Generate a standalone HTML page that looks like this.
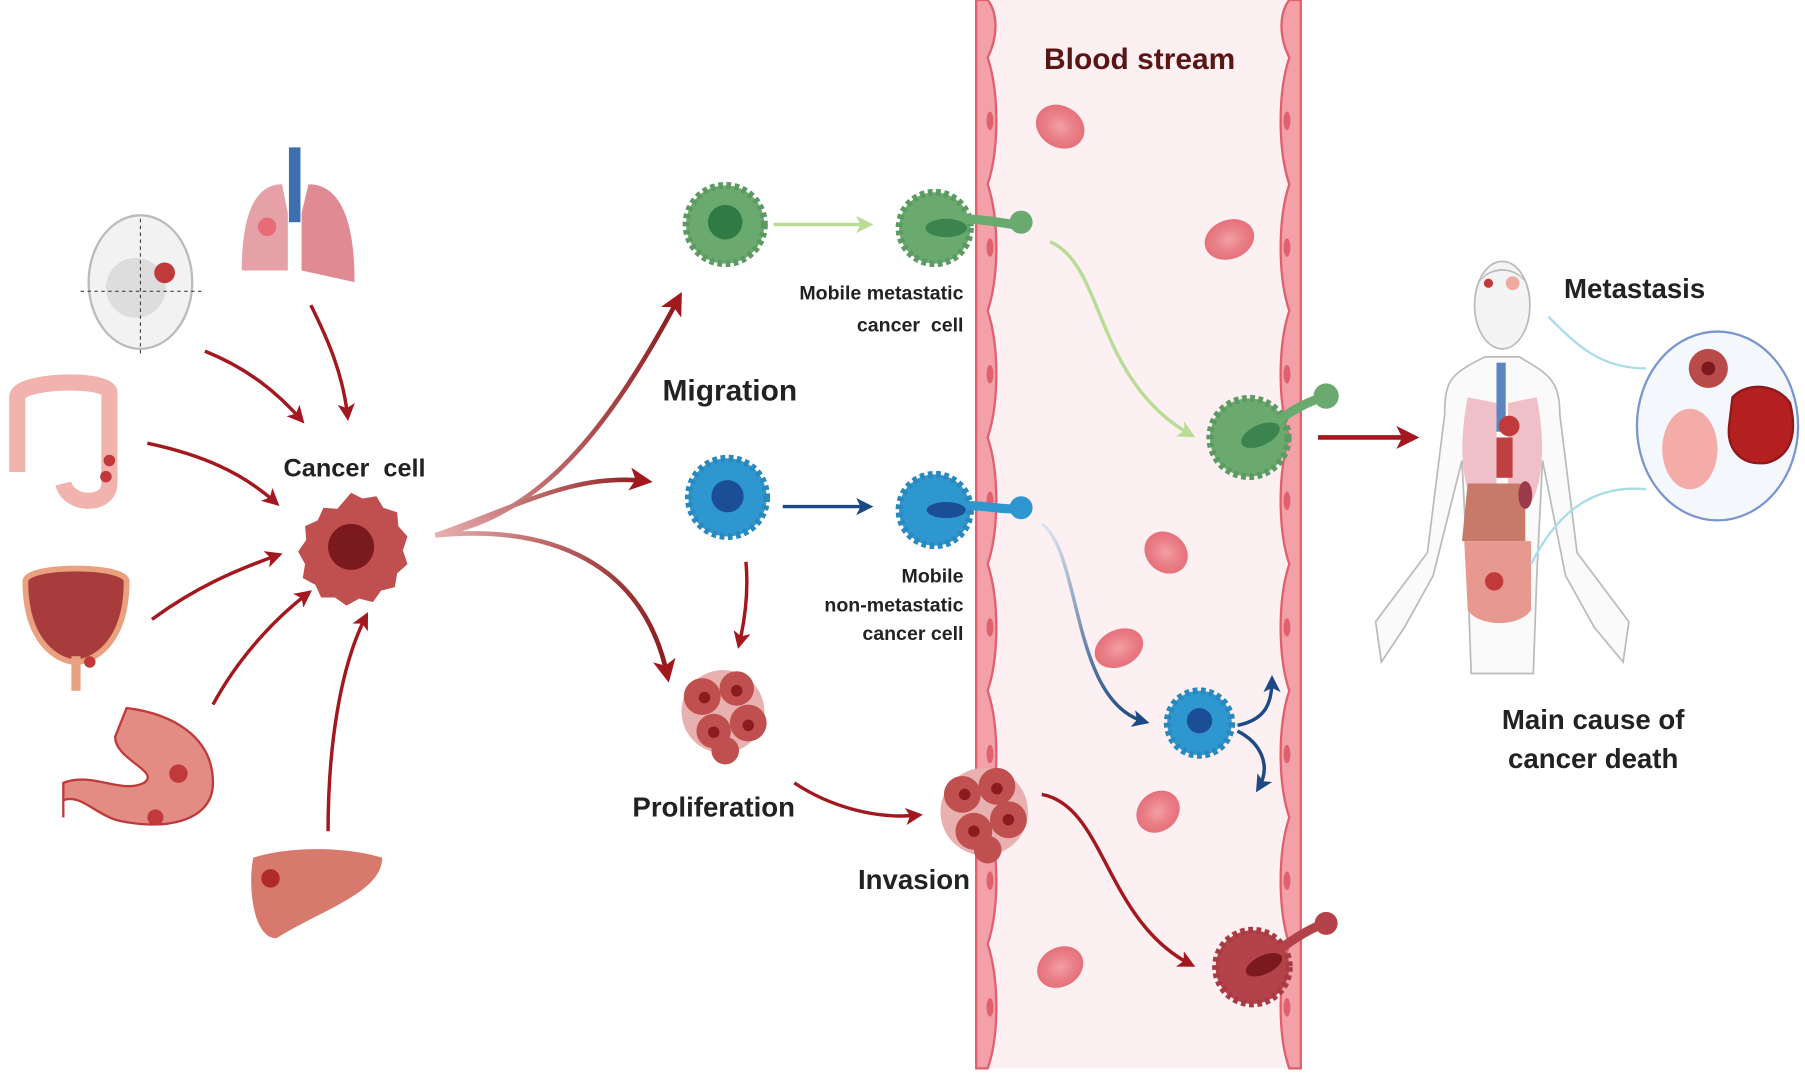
<!DOCTYPE html>
<html><head><meta charset="utf-8"><style>
html,body{margin:0;padding:0;background:#fff}
svg{display:block}
text{font-family:"Liberation Sans",sans-serif;font-weight:bold}
</style></head><body>
<svg width="1805" height="1073" viewBox="0 0 1568 932" preserveAspectRatio="none" xmlns="http://www.w3.org/2000/svg">
<defs>
<marker id="ar" viewBox="0 0 8 8" markerWidth="5" markerHeight="5" refX="6" refY="4" orient="auto" markerUnits="strokeWidth"><path d="M0,0 L8,4 L0,8 L2,4z" fill="#a3181e"/></marker>
<marker id="ab" viewBox="0 0 8 8" markerWidth="5" markerHeight="5" refX="6" refY="4" orient="auto" markerUnits="strokeWidth"><path d="M0,0 L8,4 L0,8 L2,4z" fill="#1d4a86"/></marker>
<marker id="ag" viewBox="0 0 8 8" markerWidth="5" markerHeight="5" refX="6" refY="4" orient="auto" markerUnits="strokeWidth"><path d="M0,0 L8,4 L0,8 L2,4z" fill="#b9dc96"/></marker>
<linearGradient id="fr" x1="0" x2="1"><stop offset="0" stop-color="#e8b0b0"/><stop offset="1" stop-color="#8c1a1a"/></linearGradient>
<linearGradient id="fb" x1="0" x2="0" y1="0" y2="1"><stop offset="0" stop-color="#e0e6f0"/><stop offset="1" stop-color="#1d4a86"/></linearGradient>
<radialGradient id="rbc"><stop offset="0" stop-color="#f3a0a6"/><stop offset="0.6" stop-color="#ea7f87"/><stop offset="1" stop-color="#e5717a"/></radialGradient>
</defs>

<rect x="848" y="0" width="282" height="928" fill="#fdf0f2"/>
<g fill="#f3a0a8" stroke="#e0606e" stroke-width="2">
<path d="M848,0 L848,928 L858,928 C868,900 868,850 858,820 C868,790 868,740 858,710 C868,680 868,630 858,600 C868,570 868,520 858,490 C868,460 868,410 858,380 C868,350 868,300 858,270 C868,240 868,190 858,160 C868,130 868,80 858,50 C868,30 866,10 858,0 Z"/>
<path d="M1130,0 L1130,928 L1120,928 C1110,900 1110,850 1120,820 C1110,790 1110,740 1120,710 C1110,680 1110,630 1120,600 C1110,570 1110,520 1120,490 C1110,460 1110,410 1120,380 C1110,350 1110,300 1120,270 C1110,240 1110,190 1120,160 C1110,130 1110,80 1120,50 C1110,30 1112,10 1120,0 Z"/>
</g>
<g fill="#e0606e">
<ellipse cx="860" cy="105" rx="3" ry="8"/><ellipse cx="860" cy="215" rx="3" ry="8"/><ellipse cx="860" cy="325" rx="3" ry="8"/><ellipse cx="860" cy="435" rx="3" ry="8"/><ellipse cx="860" cy="545" rx="3" ry="8"/><ellipse cx="860" cy="655" rx="3" ry="8"/><ellipse cx="860" cy="765" rx="3" ry="8"/><ellipse cx="860" cy="875" rx="3" ry="8"/>
<ellipse cx="1118" cy="105" rx="3" ry="8"/><ellipse cx="1118" cy="215" rx="3" ry="8"/><ellipse cx="1118" cy="325" rx="3" ry="8"/><ellipse cx="1118" cy="435" rx="3" ry="8"/><ellipse cx="1118" cy="545" rx="3" ry="8"/><ellipse cx="1118" cy="655" rx="3" ry="8"/><ellipse cx="1118" cy="765" rx="3" ry="8"/><ellipse cx="1118" cy="875" rx="3" ry="8"/>
</g>
<text x="990" y="60" font-size="26" fill="#5a1515" text-anchor="middle">Blood stream</text>
<g fill="url(#rbc)">
<ellipse cx="921" cy="110" rx="22" ry="18" transform="rotate(30 921 110)"/>
<ellipse cx="1068" cy="208" rx="22" ry="17" transform="rotate(-20 1068 208)"/>
<ellipse cx="1013" cy="480" rx="20" ry="17" transform="rotate(40 1013 480)"/>
<ellipse cx="972" cy="563" rx="22" ry="16" transform="rotate(-25 972 563)"/>
<ellipse cx="1006" cy="705" rx="20" ry="17" transform="rotate(-40 1006 705)"/>
<ellipse cx="921" cy="840" rx="21" ry="17" transform="rotate(-30 921 840)"/>
</g>

<ellipse cx="122" cy="245" rx="45" ry="58" fill="#f2f2f2" stroke="#bbb" stroke-width="2"/>
<circle cx="118" cy="250" r="26" fill="#ddd"/>
<circle cx="143" cy="237" r="9" fill="#c0393b"/>
<path d="M70,253 H178 M122,190 V308" stroke="#444" stroke-dasharray="3,3"/>
<path d="M210,235 C210,190 220,160 245,160 L250,185 L250,235 Z" fill="#e6a0a8"/>
<path d="M308,245 C308,190 295,160 268,160 L262,185 L262,235 Z" fill="#e08a94"/>
<rect x="251" y="128" width="10" height="65" fill="#3c6fb0"/>
<circle cx="232" cy="197" r="8" fill="#e86c78"/>
<path d="M15,410 V345 C15,330 90,328 95,340 V420 C95,440 60,440 55,420" fill="none" stroke="#f1b3ad" stroke-width="14"/>
<circle cx="95" cy="400" r="5" fill="#c0393b"/><circle cx="92" cy="414" r="5" fill="#c0393b"/>
<path d="M22,505 C22,490 110,490 110,505 C110,560 80,575 66,575 C52,575 22,560 22,505 Z" fill="#a83c3c" stroke="#e9a17f" stroke-width="5"/>
<rect x="62" y="570" width="8" height="30" fill="#e9a17f"/>
<circle cx="78" cy="575" r="5" fill="#c0393b"/>
<path d="M110,615 C150,620 185,640 185,680 C185,715 140,722 100,712 C80,705 70,690 55,695 L55,710 L55,680 C80,670 105,690 125,680 C140,670 100,660 100,640 Z" fill="#e28c84" stroke="#c0393b" stroke-width="2"/>
<circle cx="155" cy="672" r="8" fill="#c0393b"/><circle cx="135" cy="710" r="7" fill="#c0393b"/>
<path d="M220,745 C250,735 300,735 332,745 C332,775 280,790 240,815 C220,815 215,770 220,745 Z" fill="#d77a6d"/>
<circle cx="235" cy="763" r="8" fill="#b02a2a"/>

<g fill="none" stroke="#a3181e" stroke-width="3" marker-end="url(#ar)">
<path d="M178,305 C215,320 240,340 262,365"/>
<path d="M270,265 C285,295 298,325 302,362"/>
<path d="M128,385 C175,395 210,410 240,437"/>
<path d="M132,538 C170,510 205,495 242,482"/>
<path d="M185,612 C205,575 235,540 268,515"/>
<path d="M285,722 C285,650 295,580 318,535"/>
</g>

<path d="M305,428 l10,5 12,-2 6,10 12,4 1,12 8,9 -4,12 4,12 -9,8 -2,12 -12,3 -7,10 -12,-3 -11,6 -10,-7 -12,0 -5,-11 -11,-6 2,-12 -6,-11 7,-10 -1,-12 11,-5 5,-11 12,1z" fill="#c0504f"/>
<circle cx="305" cy="475" r="20" fill="#7a1a1e"/>
<text x="308" y="414" font-size="22" fill="#222" text-anchor="middle">Cancer&#160;&#160;cell</text>

<path d="M378,465 C460,450 520,390 590,258" fill="none" stroke="url(#fr)" stroke-width="4" marker-end="url(#ar)"/>
<path d="M378,465 C450,440 500,410 562,418" fill="none" stroke="url(#fr)" stroke-width="4" marker-end="url(#ar)"/>
<path d="M378,465 C480,455 560,490 580,588" fill="none" stroke="url(#fr)" stroke-width="4" marker-end="url(#ar)"/>
<text x="634" y="348" font-size="26" fill="#222" text-anchor="middle">Migration</text>

<circle cx="630" cy="195" r="34" fill="#6aaa6e" stroke="#5b9a60" stroke-width="6" stroke-dasharray="4,3"/>
<circle cx="630" cy="193" r="15" fill="#2f7a45"/>
<path d="M672,195 H755" stroke="#b9dc96" stroke-width="3" marker-end="url(#ag)"/>
<circle cx="812" cy="198" r="31" fill="#6aaa6e" stroke="#5b9a60" stroke-width="6" stroke-dasharray="4,3"/>
<path d="M810,198 C830,185 860,192 880,195" stroke="#6aaa6e" stroke-width="8" fill="none"/>
<circle cx="887" cy="193" r="10" fill="#6aaa6e"/>
<ellipse cx="822" cy="198" rx="18" ry="8" fill="#3b8450"/>
<text x="837" y="260" font-size="17" fill="#222" text-anchor="end">Mobile metastatic</text>
<text x="837" y="288" font-size="17" fill="#222" text-anchor="end">cancer&#160;&#160;cell</text>
<path d="M912,210 C960,230 950,330 1035,378" fill="none" stroke="#b9dc96" stroke-width="3" marker-end="url(#ag)"/>
<circle cx="1085" cy="380" r="34" fill="#6aaa6e" stroke="#5b9a60" stroke-width="6" stroke-dasharray="4,3"/>
<path d="M1090,380 C1110,365 1130,350 1150,345" stroke="#6aaa6e" stroke-width="8" fill="none"/>
<circle cx="1152" cy="344" r="11" fill="#6aaa6e"/>
<ellipse cx="1095" cy="378" rx="18" ry="9" fill="#3b8450" transform="rotate(-25 1095 378)"/>

<circle cx="632" cy="432" r="34" fill="#2f97cf" stroke="#2a88bd" stroke-width="6" stroke-dasharray="4,3"/>
<circle cx="632" cy="431" r="14" fill="#1a4f95"/>
<path d="M680,440 H755" stroke="#1d4a86" stroke-width="3" marker-end="url(#ab)"/>
<circle cx="812" cy="443" r="31" fill="#2f97cf" stroke="#2a88bd" stroke-width="6" stroke-dasharray="4,3"/>
<path d="M815,443 C840,435 860,442 880,442" stroke="#2f97cf" stroke-width="8" fill="none"/>
<circle cx="887" cy="441" r="10" fill="#2f97cf"/>
<ellipse cx="822" cy="443" rx="17" ry="7" fill="#1a4f95"/>
<text x="837" y="506" font-size="17" fill="#222" text-anchor="end">Mobile</text>
<text x="837" y="531" font-size="17" fill="#222" text-anchor="end">non-metastatic</text>
<text x="837" y="556" font-size="17" fill="#222" text-anchor="end">cancer cell</text>
<path d="M905,455 C940,480 930,610 995,627" fill="none" stroke="url(#fb)" stroke-width="3" marker-end="url(#ab)"/>
<circle cx="1042" cy="628" r="28" fill="#2f97cf" stroke="#2a88bd" stroke-width="6" stroke-dasharray="4,3"/>
<circle cx="1042" cy="626" r="11" fill="#1a4f95"/>
<path d="M1075,630 C1100,625 1105,610 1105,590" fill="none" stroke="#1d4a86" stroke-width="3" marker-end="url(#ab)"/>
<path d="M1075,635 C1095,645 1105,665 1093,685" fill="none" stroke="#1d4a86" stroke-width="3" marker-end="url(#ab)"/>
<path d="M648,488 C650,510 648,535 642,560" fill="none" stroke="#a3181e" stroke-width="3" marker-end="url(#ar)"/>

<g fill="#c0504f">
<circle cx="628" cy="618" r="36" fill="#e8b0ae"/>
<circle cx="610" cy="605" r="16"/><circle cx="640" cy="598" r="15"/><circle cx="650" cy="628" r="16"/><circle cx="620" cy="635" r="15"/><circle cx="630" cy="652" r="12"/>
</g>
<g fill="#8c1a1e"><circle cx="612" cy="606" r="5"/><circle cx="640" cy="600" r="5"/><circle cx="650" cy="630" r="5"/><circle cx="620" cy="636" r="5"/></g>
<text x="620" y="709" font-size="24" fill="#222" text-anchor="middle">Proliferation</text>
<path d="M690,680 C720,700 760,712 798,708" fill="none" stroke="#a3181e" stroke-width="3" marker-end="url(#ar)"/>
<g fill="#c0504f">
<circle cx="855" cy="705" r="38" fill="#e8b0ae"/>
<circle cx="836" cy="690" r="16"/><circle cx="866" cy="683" r="16"/><circle cx="876" cy="712" r="16"/><circle cx="846" cy="722" r="16"/><circle cx="858" cy="738" r="12"/>
</g>
<g fill="#8c1a1e"><circle cx="838" cy="690" r="5"/><circle cx="866" cy="685" r="5"/><circle cx="876" cy="712" r="5"/><circle cx="846" cy="722" r="5"/></g>
<text x="794" y="772" font-size="24" fill="#222" text-anchor="middle">Invasion</text>
<path d="M905,690 C960,700 960,800 1035,838" fill="none" stroke="#a3181e" stroke-width="3" marker-end="url(#ar)"/>
<circle cx="1088" cy="840" r="32" fill="#b4424a" stroke="#a83a42" stroke-width="6" stroke-dasharray="4,3"/>
<path d="M1092,840 C1110,825 1130,810 1148,803" stroke="#b4424a" stroke-width="8" fill="none"/>
<circle cx="1152" cy="802" r="10" fill="#b4424a"/>
<ellipse cx="1098" cy="838" rx="17" ry="8" fill="#7a1a1e" transform="rotate(-25 1098 838)"/>

<path d="M1145,380 H1228" stroke="#a3181e" stroke-width="4" marker-end="url(#ar)"/>

<g fill="#fafafa" stroke="#bbb" stroke-width="1.5">
<path d="M1290,310 C1260,325 1255,330 1255,360 L1240,480 L1195,540 L1200,575 L1220,545 L1245,500 L1270,400 L1275,500 L1278,585 L1332,585 L1335,500 L1340,400 L1360,500 L1385,545 L1410,575 L1415,540 L1370,480 L1355,360 C1355,330 1345,325 1320,310 Z"/>
<ellipse cx="1305" cy="265" rx="24" ry="38" fill="#f4f4f4"/>
</g>
<path d="M1281,260 C1280,225 1330,225 1329,260 L1325,245 C1315,232 1295,232 1285,245 Z" fill="#b8b8b8"/>
<circle cx="1293" cy="246" r="4" fill="#c0393b"/><circle cx="1314" cy="246" r="6" fill="#f0a8a0"/>
<rect x="1300" y="315" width="8" height="60" fill="#5b85c0"/>
<path d="M1275,345 C1268,380 1268,420 1282,440 L1300,440 L1300,350 Z M1335,345 C1342,380 1342,420 1328,440 L1310,440 L1310,350 Z" fill="#f0c0c8"/>
<circle cx="1311" cy="370" r="9" fill="#c0393b"/>
<rect x="1300" y="380" width="14" height="35" fill="#c04040"/>
<path d="M1275,420 H1325 V470 H1270 Z" fill="#c87a6a"/>
<ellipse cx="1325" cy="430" rx="6" ry="12" fill="#9c3a4a"/>
<path d="M1272,470 H1330 V530 C1320,545 1285,545 1275,530 Z" fill="#e7988f"/>
<circle cx="1298" cy="505" r="8" fill="#c0393b"/>
<text x="1420" y="259" font-size="24" fill="#222" text-anchor="middle">Metastasis</text>
<path d="M1345,275 C1370,300 1390,320 1430,320" fill="none" stroke="#a8dde8" stroke-width="2"/>
<path d="M1330,490 C1350,450 1380,420 1430,425" fill="none" stroke="#a8dde8" stroke-width="2"/>
<ellipse cx="1492" cy="370" rx="70" ry="82" fill="#f4f8fd" stroke="#7b95d0" stroke-width="2"/>
<circle cx="1484" cy="320" r="17" fill="#b94a4a"/><circle cx="1484" cy="320" r="6" fill="#7a1a1e"/>
<path d="M1505,345 C1520,330 1545,335 1555,350 C1560,370 1560,395 1535,402 C1512,405 1500,390 1502,370 Z" fill="#b42020" stroke="#8c1a1a" stroke-width="2"/>
<ellipse cx="1468" cy="390" rx="24" ry="35" fill="#f4aca8"/>
<text x="1384" y="633" font-size="24" fill="#222" text-anchor="middle">Main cause of</text>
<text x="1384" y="667" font-size="24" fill="#222" text-anchor="middle">cancer death</text>
</svg>
</body></html>
